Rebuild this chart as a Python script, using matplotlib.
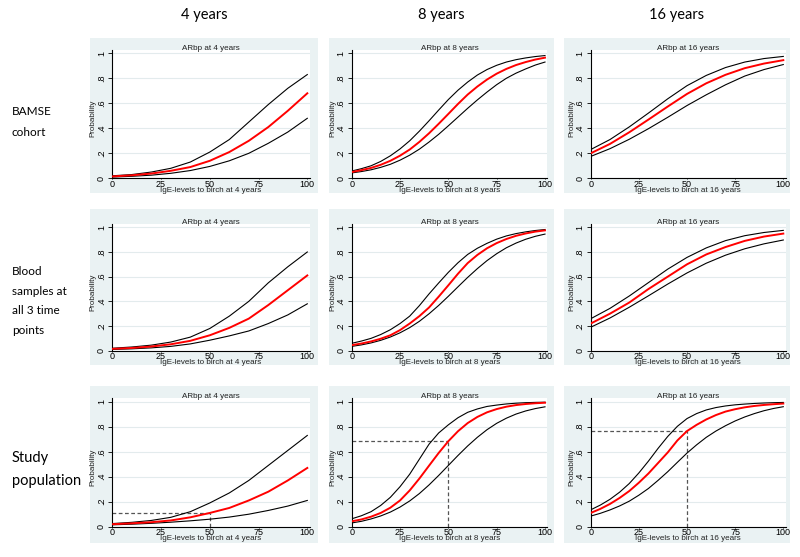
import matplotlib.pyplot as plt
from matplotlib.patches import Rectangle

# IgE level grids (x positions)
ige = [0, 10, 20, 30, 40, 50, 60, 70, 80, 90, 100]
ige_fine = [0, 5, 10, 15, 20, 25, 30, 35, 40, 45, 50, 55, 60, 65, 70, 75, 80, 85, 90, 95, 100]

# BAMSE cohort
bamse4_hi = [0.02, 0.03, 0.05, 0.08, 0.13, 0.21, 0.31, 0.45, 0.59, 0.72, 0.83]
bamse4_fit = [0.015, 0.024, 0.038, 0.06, 0.09, 0.14, 0.21, 0.30, 0.41, 0.54, 0.68]
bamse4_lo = [0.010, 0.016, 0.025, 0.040, 0.062, 0.095, 0.14, 0.20, 0.28, 0.37, 0.48]

bamse8_hi = [0.058, 0.077, 0.10, 0.135, 0.18, 0.235, 0.30, 0.377, 0.46, 0.546, 0.63,
             0.705, 0.77, 0.826, 0.87, 0.904, 0.93, 0.949, 0.963, 0.974, 0.982]
bamse8_fit = [0.05, 0.065, 0.083, 0.108, 0.14, 0.181, 0.23, 0.291, 0.36, 0.436, 0.515,
              0.595, 0.67, 0.734, 0.79, 0.837, 0.875, 0.906, 0.93, 0.95, 0.965]
bamse8_lo = [0.043, 0.054, 0.068, 0.0875, 0.112, 0.145, 0.185, 0.233, 0.29, 0.352, 0.42,
             0.49, 0.56, 0.627, 0.69, 0.749, 0.80, 0.841, 0.875, 0.906, 0.93]

bamse16_hi = [0.23, 0.31, 0.411, 0.522, 0.636, 0.741, 0.823, 0.886, 0.930, 0.958, 0.975]
bamse16_fit = [0.20, 0.275, 0.368, 0.47, 0.574, 0.675, 0.76, 0.828, 0.881, 0.918, 0.945]
bamse16_lo = [0.175, 0.237, 0.312, 0.397, 0.488, 0.582, 0.668, 0.748, 0.818, 0.87, 0.91]

# Blood samples at all 3 time points
blood4_hi = [0.02, 0.03, 0.045, 0.07, 0.11, 0.18, 0.28, 0.40, 0.55, 0.68, 0.80]
blood4_fit = [0.015, 0.022, 0.034, 0.052, 0.08, 0.125, 0.185, 0.26, 0.37, 0.49, 0.61]
blood4_lo = [0.010, 0.015, 0.023, 0.035, 0.055, 0.085, 0.12, 0.16, 0.22, 0.29, 0.38]

blood8_hi = [0.06, 0.078, 0.10, 0.131, 0.17, 0.22, 0.28, 0.365, 0.46, 0.549, 0.635,
             0.713, 0.78, 0.83, 0.87, 0.904, 0.93, 0.949, 0.963, 0.974, 0.982]
blood8_fit = [0.045, 0.058, 0.075, 0.097, 0.125, 0.167, 0.22, 0.28, 0.35, 0.438, 0.53,
              0.624, 0.71, 0.776, 0.83, 0.872, 0.905, 0.931, 0.95, 0.965, 0.975]
blood8_lo = [0.035, 0.047, 0.063, 0.084, 0.111, 0.145, 0.187, 0.238, 0.299, 0.367, 0.441,
             0.518, 0.594, 0.665, 0.730, 0.786, 0.834, 0.872, 0.903, 0.927, 0.945]

blood16_hi = [0.259, 0.343, 0.443, 0.552, 0.661, 0.756, 0.833, 0.892, 0.932, 0.958, 0.975]
blood16_fit = [0.22, 0.30, 0.39, 0.50, 0.60, 0.70, 0.78, 0.84, 0.89, 0.925, 0.949]
blood16_lo = [0.19, 0.265, 0.352, 0.445, 0.54, 0.63, 0.709, 0.774, 0.826, 0.866, 0.897]

# Study population
study4_hi = [0.025, 0.035, 0.05, 0.075, 0.12, 0.19, 0.27, 0.37, 0.49, 0.61, 0.73]
study4_fit = [0.02, 0.027, 0.036, 0.05, 0.075, 0.11, 0.15, 0.21, 0.28, 0.37, 0.47]
study4_lo = [0.015, 0.02, 0.027, 0.036, 0.047, 0.06, 0.077, 0.10, 0.13, 0.165, 0.21]

study8_hi = [0.063, 0.0875, 0.12, 0.17, 0.235, 0.32, 0.42, 0.54, 0.66, 0.75, 0.815,
             0.872, 0.915, 0.942, 0.962, 0.973, 0.982, 0.988, 0.992, 0.9945, 0.996]
study8_fit = [0.043, 0.058, 0.08, 0.11, 0.152, 0.21, 0.29, 0.385, 0.488, 0.59, 0.684,
              0.764, 0.829, 0.878, 0.915, 0.941, 0.960, 0.973, 0.9816, 0.9876, 0.9917]
study8_lo = [0.030, 0.043, 0.062, 0.086, 0.117, 0.157, 0.206, 0.265, 0.334, 0.41, 0.49,
             0.57, 0.646, 0.715, 0.776, 0.827, 0.868, 0.901, 0.926, 0.945, 0.959]

study16_hi = [0.135, 0.173, 0.219, 0.276, 0.345, 0.43, 0.525, 0.627, 0.722, 0.803, 0.865,
              0.905, 0.934, 0.953, 0.966, 0.975, 0.981, 0.986, 0.9895, 0.992, 0.994]
study16_fit = [0.110, 0.1425, 0.182, 0.23, 0.285, 0.352, 0.426, 0.51, 0.594, 0.69, 0.765,
               0.815, 0.858, 0.893, 0.921, 0.94, 0.955, 0.966, 0.974, 0.980, 0.985]
study16_lo = [0.085, 0.107, 0.134, 0.166, 0.204, 0.252, 0.306, 0.371, 0.44, 0.515, 0.589,
              0.655, 0.715, 0.765, 0.808, 0.846, 0.878, 0.905, 0.928, 0.946, 0.96]

# reference lines drawn in the study population row (IgE = 50)
ref_ige = 50
ref_prob = [0.11, 0.684, 0.765]

ages = ['4', '8', '16']
col_titles = ['4 years', '8 years', '16 years']
row_labels = ['BAMSE\ncohort', 'Blood\nsamples at\nall 3 time\npoints', 'Study\npopulation']

panels = [
    [(ige, bamse4_hi, bamse4_fit, bamse4_lo),
     (ige_fine, bamse8_hi, bamse8_fit, bamse8_lo),
     (ige, bamse16_hi, bamse16_fit, bamse16_lo)],
    [(ige, blood4_hi, blood4_fit, blood4_lo),
     (ige_fine, blood8_hi, blood8_fit, blood8_lo),
     (ige, blood16_hi, blood16_fit, blood16_lo)],
    [(ige, study4_hi, study4_fit, study4_lo),
     (ige_fine, study8_hi, study8_fit, study8_lo),
     (ige_fine, study16_hi, study16_fit, study16_lo)],
]

W, H = 800, 557
BG = '#eaf2f3'
STATA_FONT = ['Liberation Sans', 'DejaVu Sans']
HEAD_FONT = ['Lato', 'DejaVu Sans']

# pixel layout (grey box edges, x=0 / x=100 and y=1 / y=0 positions)
box_x = [(90, 318), (329, 554), (564, 790)]
ax_x = [(112.3, 307.3), (351.7, 545.0), (590.7, 783.3)]
box_y = [(38, 193), (209, 365), (386, 543)]
ax_y = [(53.3, 178.3), (227.3, 350.7), (401.7, 526.7)]

fig = plt.figure(figsize=(8, 5.57), dpi=100)


def fx(px):
    return px / W


def fy(py):
    return 1 - py / H


for c, t in enumerate(col_titles):
    cx = (box_x[c][0] + box_x[c][1]) / 2
    fig.text(fx(cx), fy(15), t, ha='center', va='center', fontsize=10.5, family=HEAD_FONT)

row_y = [113, 273, 458]
row_size = [8.5, 8.5, 10.5]
row_spacing = [2.1, 1.95, 1.85]
for r, lab in enumerate(row_labels):
    fig.text(fx(12), fy(row_y[r] - 7), lab, ha='left', va='top', fontsize=row_size[r],
             family=HEAD_FONT, linespacing=row_spacing[r])

for r in range(3):
    for c in range(3):
        bx0, bx1 = box_x[c]
        by0, by1 = box_y[r]
        fig.patches.append(Rectangle((fx(bx0), fy(by1)), fx(bx1 - bx0), (by1 - by0) / H,
                                     transform=fig.transFigure, facecolor=BG, edgecolor='none',
                                     zorder=-5))

        x0, x100 = ax_x[c]
        y1, y0 = ax_y[r]
        per_x = (x100 - x0) / 100
        per_y = (y0 - y1)
        xmax = 101.2
        ymax = 1.03
        right = x0 + xmax * per_x
        top = y0 - ymax * per_y
        ax = fig.add_axes([fx(x0), fy(y0), fx(right - x0), (y0 - top) / H])
        ax.set_zorder(2)
        ax.set_facecolor('white')
        ax.set_xlim(0, xmax)
        ax.set_ylim(0, ymax)

        xs, hi, fit, lo = panels[r][c]
        ax.plot(xs, hi, color='black', lw=0.8, zorder=3)
        ax.plot(xs, lo, color='black', lw=0.8, zorder=3)
        ax.plot(xs, fit, color='red', lw=1.4, zorder=4)

        if r == 2:
            ax.plot([0, ref_ige], [ref_prob[c], ref_prob[c]], color='#555555', lw=0.9,
                    ls=(0, (3, 2)), zorder=2)
            ax.plot([ref_ige, ref_ige], [0, ref_prob[c]], color='#555555', lw=0.9,
                    ls=(0, (3, 2)), zorder=2)

        for s in ['top', 'right']:
            ax.spines[s].set_visible(False)
        for s in ['left', 'bottom']:
            ax.spines[s].set_linewidth(0.8)
            ax.spines[s].set_color('black')

        ax.set_xticks([0, 25, 50, 75, 100])
        ax.set_xticklabels(['0', '25', '50', '75', '100'], family=STATA_FONT)
        ax.set_yticks([0, 0.2, 0.4, 0.6, 0.8, 1])
        ax.set_yticklabels(['0', '.2', '.4', '.6', '.8', '1'], rotation=90, va='center',
                           family=STATA_FONT)
        ax.tick_params(axis='x', length=1, width=0.6, pad=0.2, labelsize=6.5)
        ax.tick_params(axis='y', length=3, width=0.6, pad=1.5, labelsize=6.5)
        ax.yaxis.grid(True, color='#e3ebed', lw=0.8)
        ax.set_axisbelow(True)

        mid = (x0 + right) / 2
        fig.text(fx(mid), fy(y1 - 5), 'ARbp at %s years' % ages[c], ha='center', va='center',
                 fontsize=5.8, family=STATA_FONT, color='#222222', zorder=3)
        fig.text(fx(mid), fy(y0 + 12), 'IgE-levels to birch at %s years' % ages[c],
                 ha='center', va='center', fontsize=5.8, family=STATA_FONT, color='#222222',
                 zorder=3)
        fig.text(fx(x0 - 19), fy((y0 + y1) / 2 + 3), 'Probability', ha='center', va='center',
                 rotation=90, fontsize=5.8, family=STATA_FONT, color='#222222', zorder=3)

fig.savefig('out.png', dpi=100)
